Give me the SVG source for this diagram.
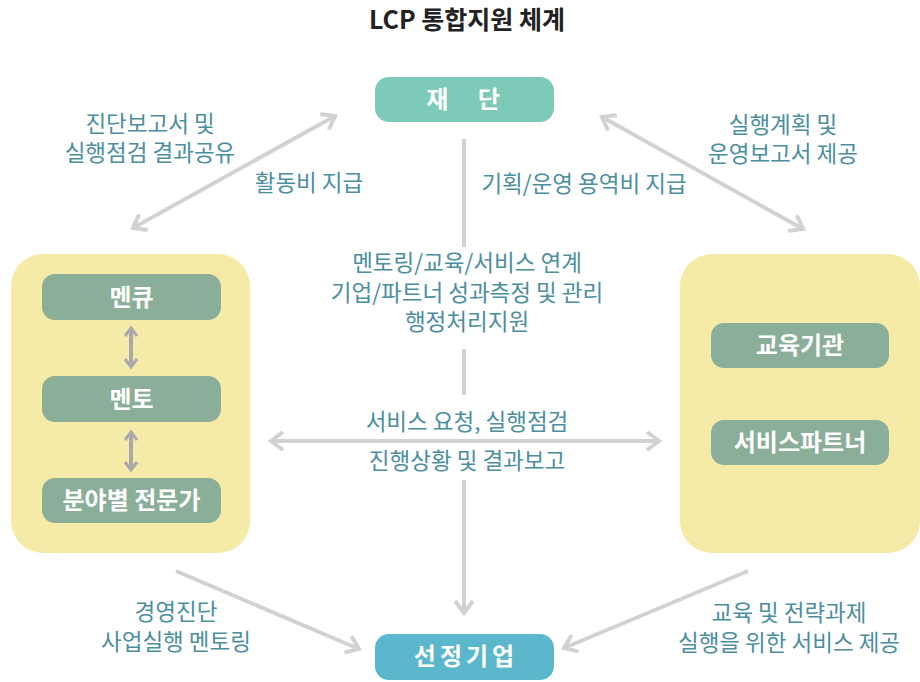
<svg xmlns="http://www.w3.org/2000/svg" width="920" height="682" viewBox="0 0 920 682">
<defs>
<style>
.lbl{font-family:"Noto Sans CJK KR","Noto Sans",sans-serif;font-size:22.5px;fill:#4a8ea0;text-anchor:middle}
.node{font-family:"Noto Sans CJK KR","Noto Sans",sans-serif;font-size:24px;font-weight:bold;fill:#ffffff;text-anchor:middle}
.con{stroke:#d2d2d4;stroke-width:4;fill:none;stroke-linecap:butt}
.small{stroke:#a9a9ab;stroke-width:4;fill:none}
.inner{fill:#8aae98}
.panel{fill:#f5eaa8}
</style>
<marker id="ah" viewBox="0 0 20 20" refX="16" refY="10" markerWidth="20" markerHeight="20" markerUnits="userSpaceOnUse" orient="auto-start-reverse">
<path d="M4,1 L16,10 L4,19" fill="none" stroke="#d2d2d4" stroke-width="4"/>
</marker>
<marker id="ahs" viewBox="0 0 14 14" refX="11" refY="7" markerWidth="14" markerHeight="14" markerUnits="userSpaceOnUse" orient="auto-start-reverse">
<path d="M3,1 L11,7 L3,13" fill="none" stroke="#a9a9ab" stroke-width="3"/>
</marker>
</defs>
<rect width="920" height="682" fill="#ffffff"/>
<text x="467" y="29" font-family="'Noto Sans CJK KR','Noto Sans',sans-serif" font-size="25" font-weight="bold" fill="#222222" text-anchor="middle">LCP 통합지원 체계</text>

<g id="panel-left"><rect class="panel" x="11" y="254" width="239" height="299" rx="32"/></g>
<g id="panel-right"><rect class="panel" x="680" y="254" width="240" height="299" rx="32"/></g>

<g id="connectors">
<line class="con" x1="133" y1="228" x2="335" y2="116" marker-start="url(#ah)" marker-end="url(#ah)"/>
<line class="con" x1="602" y1="117" x2="803" y2="229" marker-start="url(#ah)" marker-end="url(#ah)"/>
<line class="con" x1="464" y1="139" x2="464" y2="247"/>
<line class="con" x1="464" y1="349" x2="464" y2="395"/>
<line class="con" x1="464" y1="480" x2="464" y2="613" marker-end="url(#ah)"/>
<line class="con" x1="271" y1="441" x2="659" y2="441" marker-start="url(#ah)" marker-end="url(#ah)"/>
<line class="con" x1="176" y1="571" x2="359" y2="649" marker-end="url(#ah)"/>
<line class="con" x1="748" y1="571" x2="564" y2="648" marker-end="url(#ah)"/>
<line class="small" x1="131" y1="328" x2="131" y2="367" marker-start="url(#ahs)" marker-end="url(#ahs)"/>
<line class="small" x1="131" y1="432" x2="131" y2="470" marker-start="url(#ahs)" marker-end="url(#ahs)"/>
</g>

<g id="node-foundation"><rect x="375" y="77" width="179" height="45" rx="14" fill="#7dcab8"/><text class="node" x="469" y="108" letter-spacing="12">재 단</text></g>
<g id="node-company"><rect x="375" y="634" width="179" height="46" rx="14" fill="#5bb7cb"/><text class="node" x="466" y="665" letter-spacing="4">선정기업</text></g>
<g id="node-menq"><rect class="inner" x="42" y="274" width="179" height="46" rx="13"/><text class="node" x="131.5" y="305.5">멘큐</text></g>
<g id="node-mentor"><rect class="inner" x="42" y="376" width="179" height="46" rx="13"/><text class="node" x="131.5" y="407.5">멘토</text></g>
<g id="node-expert"><rect class="inner" x="42" y="478" width="179" height="45" rx="13"/><text class="node" x="131.5" y="509">분야별 전문가</text></g>
<g id="node-edu"><rect class="inner" x="711" y="323" width="178" height="45" rx="13"/><text class="node" x="800" y="354">교육기관</text></g>
<g id="node-partner"><rect class="inner" x="711" y="420" width="178" height="45" rx="13"/><text class="node" x="800" y="451">서비스파트너</text></g>

<g id="labels">
<text class="lbl" x="150" y="132">진단보고서 및</text>
<text class="lbl" x="150" y="161">실행점검 결과공유</text>
<text class="lbl" x="309" y="191">활동비 지급</text>
<text class="lbl" x="584" y="192">기획/운영 용역비 지급</text>
<text class="lbl" x="783" y="133">실행계획 및</text>
<text class="lbl" x="783" y="162">운영보고서 제공</text>
<text class="lbl" x="467" y="271">멘토링/교육/서비스 연계</text>
<text class="lbl" x="467" y="301">기업/파트너 성과측정 및 관리</text>
<text class="lbl" x="467" y="330">행정처리지원</text>
<text class="lbl" x="467" y="430">서비스 요청, 실행점검</text>
<text class="lbl" x="467" y="469">진행상황 및 결과보고</text>
<text class="lbl" x="176" y="620">경영진단</text>
<text class="lbl" x="176" y="650">사업실행 멘토링</text>
<text class="lbl" x="789" y="621">교육 및 전략과제</text>
<text class="lbl" x="789" y="651">실행을 위한 서비스 제공</text>
</g>
</svg>
